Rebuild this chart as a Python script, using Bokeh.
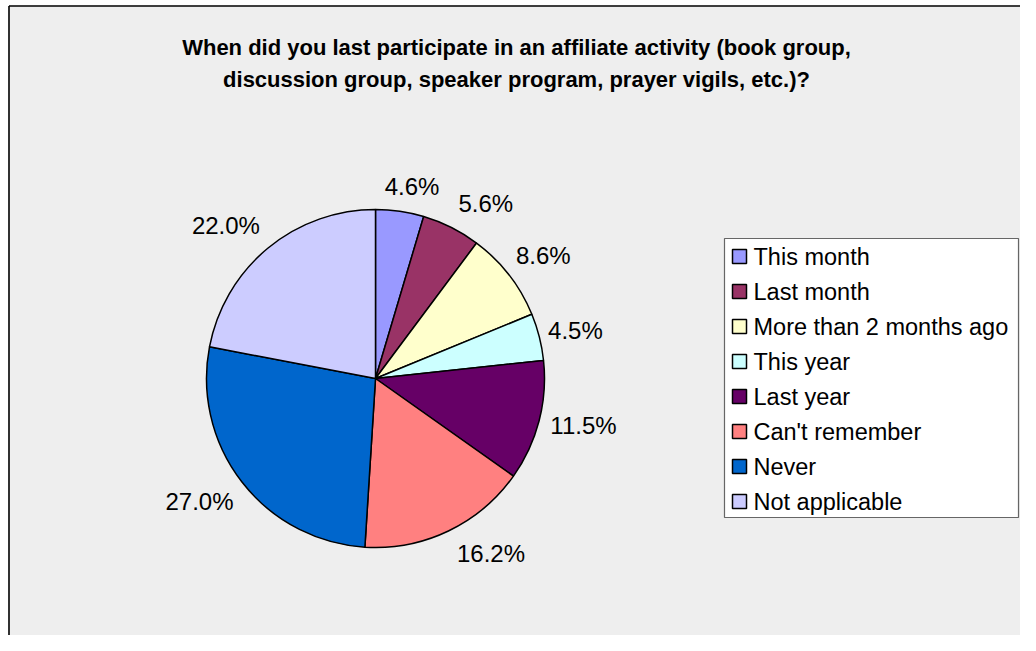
import math
from bokeh.plotting import figure
from bokeh.models import Range1d, ColumnDataSource
from bokeh.core.properties import value
from bokeh.embed import file_html
from bokeh.resources import INLINE

# ---- data ----
categories = ["This month", "Last month", "More than 2 months ago", "This year",
              "Last year", "Can't remember", "Never", "Not applicable"]
percents = [4.6, 5.6, 8.6, 4.5, 11.5, 16.2, 27.0, 22.0]
colors = ["#9999FF", "#993366", "#FFFFCC", "#CCFFFF",
          "#660066", "#FF8080", "#0066CC", "#CCCCFF"]
title_lines = ["When did you last participate in an affiliate activity (book group,",
               "discussion group, speaker program, prayer vigils, etc.)?"]

# ---- layout (pixel space: x right, y up; image coords with y down -> py) ----
W, H = 1020, 635
FONT = "Liberation Sans"
def py(img_y):
    return H - img_y
def px(img_x):
    return img_x

cx, cy = px(375), py(378)
R = 169

p = figure(width=W, height=H, output_backend="svg", toolbar_location=None,
           x_range=Range1d(0, W), y_range=Range1d(0, H), min_border=0)
p.axis.visible = False
p.grid.visible = False
p.background_fill_color = "#FFFFFF"
p.border_fill_color = "#FFFFFF"
p.outline_line_color = None

# chart area with left/top border
p.quad(left=px(8), right=W + 5, top=py(5), bottom=-5, fill_color="#EEEEEE", line_color=None)
p.segment(x0=[px(8.5), px(8.5)], y0=[-5, py(5.5)], x1=[px(8.5), W + 5], y1=[py(5.5), py(5.5)],
          line_color="#000000", line_width=1.6)

# ---- pie ----
total = sum(percents)
starts, ends, mids = [], [], []
acc = 0.0
for v in percents:
    a0 = math.pi / 2 - 2 * math.pi * acc / total
    acc += v
    a1 = math.pi / 2 - 2 * math.pi * acc / total
    starts.append(a0)
    ends.append(a1)
    mids.append((a0 + a1) / 2)

src = ColumnDataSource(dict(start=starts, end=ends, color=colors))
p.wedge(x=cx, y=cy, radius=R, start_angle="start", end_angle="end", direction="clock",
        fill_color="color", line_color="#000000", line_width=1.5, source=src)

# ---- labels ----
label_texts = ["%.1f%%" % v for v in percents]
nudges = [(6, 0), (15, -2), (0, -4), (-6, 0), (-4, -2), (21, 0), (-3, 4), (-10, -4)]
lx, ly = [], []
for t, a, (nx, ny) in zip(label_texts, mids, nudges):
    ux, uy = math.cos(a), math.sin(a)
    w = len(t) * 13.2
    h = 16
    x = cx + 186 * ux + w / 2 * ux + nx
    y = cy + 186 * uy + h / 2 * uy - ny
    lx.append(x)
    ly.append(y)
p.text(x=lx, y=ly, text=label_texts, text_align="center", text_baseline="middle",
       text_font=value(FONT), text_font_size="24px", text_color="#000000")

# ---- title ----
p.text(x=[px(516)] * 2, y=[py(47), py(79)], text=title_lines, text_align="center",
       text_baseline="middle", text_font=value(FONT), text_font_size="22px",
       text_font_style="bold", text_color="#000000")

# ---- legend ----
lg_left, lg_right, lg_top, lg_bottom = px(724), px(1018), py(238), py(517)
p.quad(left=lg_left, right=lg_right, top=lg_top, bottom=lg_bottom,
       fill_color="#FFFFFF", line_color="#666666", line_width=1.2)
row_y = [py(256 + 35 * i) for i in range(len(categories))]
p.rect(x=[px(739)] * len(categories), y=row_y, width=14, height=14,
       width_units="screen", height_units="screen",
       fill_color=colors, line_color="#000000", line_width=1.5)
p.text(x=[px(753)] * len(categories), y=row_y, text=categories, text_align="left",
       text_baseline="middle", text_font=value(FONT), text_font_size="23.5px",
       text_color="#000000")

open("out.html", "w").write(file_html(p, INLINE))
